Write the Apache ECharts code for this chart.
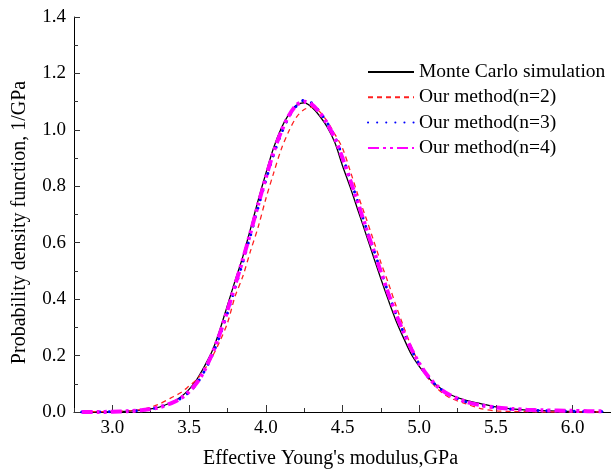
<!DOCTYPE html>
<html>
<head>
<meta charset="utf-8">
<script src="https://cdn.jsdelivr.net/npm/echarts@6/dist/echarts.min.js"></script>
<style>html,body{margin:0;padding:0;background:#fff}#c{width:611px;height:474px}</style>
</head>
<body>
<div id="c"></div>
<script>
var xs = [2.8,2.9,3.0,3.1,3.2,3.3,3.4,3.45,3.5,3.55,3.6,3.65,3.7,3.75,3.8,3.85,3.9,3.95,4.0,4.05,4.1,4.15,4.2,4.25,4.3,4.35,4.4,4.45,4.5,4.55,4.6,4.65,4.7,4.75,4.8,4.85,4.9,4.95,5.0,5.05,5.1,5.15,5.2,5.3,5.4,5.5,5.6,5.7,5.8,5.9,6.0,6.1,6.2];
var monteCarlo = [0,0,0.001,0.003,0.007,0.016,0.038,0.055,0.08,0.115,0.162,0.215,0.29,0.378,0.465,0.55,0.648,0.75,0.845,0.935,1.005,1.055,1.087,1.096,1.08,1.05,1.01,0.955,0.873,0.797,0.716,0.635,0.553,0.472,0.395,0.322,0.26,0.203,0.162,0.128,0.1,0.08,0.062,0.042,0.03,0.018,0.011,0.007,0.005,0.003,0.002,0.001,0.001];
var method2 = [0.001,0.001,0.002,0.004,0.01,0.027,0.055,0.07,0.092,0.115,0.15,0.195,0.25,0.315,0.41,0.48,0.57,0.655,0.755,0.845,0.93,0.995,1.045,1.072,1.08,1.065,1.03,0.985,0.935,0.855,0.77,0.693,0.612,0.53,0.455,0.375,0.3,0.23,0.172,0.125,0.093,0.068,0.05,0.03,0.012,0.004,0.002,0.001,0,0,0,0,0];
var method3 = [0,0,0.001,0.003,0.007,0.016,0.035,0.05,0.07,0.1,0.145,0.2,0.27,0.35,0.44,0.53,0.625,0.725,0.82,0.91,0.985,1.045,1.085,1.105,1.095,1.065,1.025,0.975,0.905,0.825,0.745,0.66,0.58,0.5,0.42,0.345,0.28,0.22,0.17,0.13,0.1,0.077,0.06,0.037,0.024,0.016,0.01,0.007,0.005,0.004,0.003,0.002,0.002];
var method4 = [0,0,0.001,0.003,0.007,0.016,0.035,0.05,0.072,0.103,0.148,0.205,0.277,0.36,0.45,0.54,0.635,0.735,0.83,0.92,0.993,1.05,1.088,1.1,1.09,1.062,1.022,0.97,0.9,0.822,0.742,0.658,0.577,0.497,0.418,0.345,0.28,0.222,0.172,0.132,0.1,0.077,0.06,0.037,0.024,0.016,0.011,0.008,0.006,0.005,0.004,0.003,0.003];
var xMajorTicks = [3.0,3.5,4.0,4.5,5.0,5.5,6.0];
var seriesNames = ['Monte Carlo simulation','Our method(n=2)','Our method(n=3)','Our method(n=4)'];

function pts(ys){ return xs.map(function(x,i){ return [x, ys[i]]; }); }
var FONT = 'Liberation Serif';
var chart = echarts.init(document.getElementById('c'), null, {renderer:'canvas'});
chart.setOption({
  animation:false,
  backgroundColor:'#fff',
  grid:{left:74, right:-3, top:17, bottom:59.5, containLabel:false},
  legend:{
    show:true, left:362, top:57, orient:'vertical',
    itemWidth:46, itemHeight:14, itemGap:5.3,
    itemStyle:{color:'rgba(0,0,0,0)', borderColor:'rgba(0,0,0,0)', borderWidth:0},
    textStyle:{fontFamily:FONT, fontSize:19.5, color:'#000'},
    data:seriesNames
  },
  xAxis:[{
    type:'value', min:2.75, max:6.25, interval:0.25,
    axisLine:{show:true, lineStyle:{color:'#000', width:1}},
    axisTick:{show:true, inside:true, length:4, lineStyle:{color:'#333'}},
    axisLabel:{show:false},
    splitLine:{show:false},
    name:"Effective Young's modulus,GPa", nameLocation:'middle', nameGap:37,
    nameTextStyle:{fontFamily:FONT, fontSize:20, color:'#000', padding:[0,24,0,0]}
  },{
    type:'value', min:2.75, max:6.25, position:'bottom',
    axisLine:{show:false},
    axisTick:{show:true, inside:true, length:7, customValues:xMajorTicks, lineStyle:{color:'#333'}},
    axisLabel:{show:true, customValues:xMajorTicks, margin:7, fontFamily:FONT, fontSize:19, color:'#000',
      formatter:function(v){ return v.toFixed(1); }},
    splitLine:{show:false}
  }],
  yAxis:{
    type:'value', min:0, max:1.4, interval:0.2,
    axisLine:{show:true, lineStyle:{color:'#000', width:1}},
    axisTick:{show:true, inside:true, length:6, lineStyle:{color:'#333'}},
    minorTick:{show:true, splitNumber:2, length:4, lineStyle:{color:'#333'}},
    axisLabel:{margin:8, fontFamily:FONT, fontSize:19, color:'#000', formatter:function(v){return v.toFixed(1);}},
    splitLine:{show:false},
    name:'Probability density function, 1/GPa', nameLocation:'middle', nameGap:44,
    nameTextStyle:{fontFamily:FONT, fontSize:20, color:'#000', padding:[0,16,0,0]}
  },
  series:[
    {name:seriesNames[0], type:'line', data:pts(monteCarlo), showSymbol:false, symbol:'none', smooth:0.3,
      lineStyle:{color:'#000', width:1.3, type:'solid'}, itemStyle:{color:'#000'}, z:2},
    {name:seriesNames[1], type:'line', data:pts(method2), showSymbol:false, symbol:'none', smooth:0.3,
      lineStyle:{color:'#ff2020', width:1.3, type:[5,4]}, itemStyle:{color:'#ff2020'}, z:3},
    {name:seriesNames[2], type:'line', data:pts(method3), showSymbol:false, symbol:'none', smooth:0.3,
      lineStyle:{color:'#0000ff', width:3, type:[0.1,9], cap:'round'}, itemStyle:{color:'#0000ff'}, z:4},
    {name:seriesNames[3], type:'line', data:pts(method4), showSymbol:false, symbol:'none', smooth:0.3,
      lineStyle:{color:'#ff00ff', width:4, type:[11,4,3,4,3,4], cap:'butt'}, itemStyle:{color:'#ff00ff'}, z:5}
  ]
});
</script>
</body>
</html>
